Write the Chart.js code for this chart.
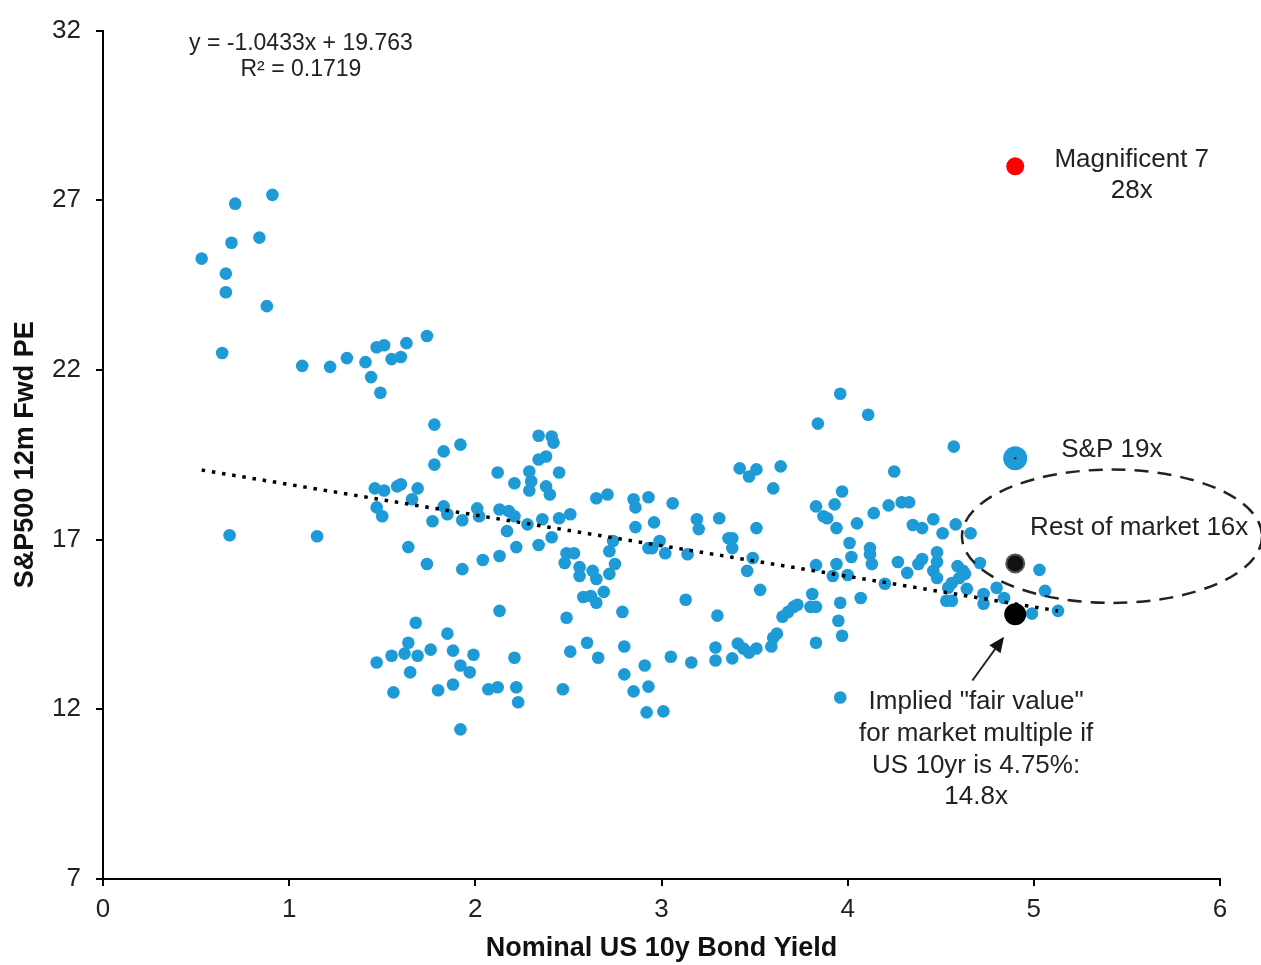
<!DOCTYPE html>
<html>
<head>
<meta charset="utf-8">
<script src="https://cdn.jsdelivr.net/npm/chart.js@4.4.1/dist/chart.umd.min.js"></script>
<style>
  body { margin: 0; background: #fff; }
  canvas { display: block; }
</style>
</head>
<body>
<canvas id="myChart" width="1261" height="965"></canvas>
<script>
// Stocks / periods: 10y yield (x) vs S&P500 12m fwd PE (y)
const bondYield = [
  0.53, 0.66, 0.66, 0.69, 0.71, 0.84, 0.88, 0.91, 0.64, 0.68,
  1.07, 1.22, 1.31, 1.41, 1.44, 1.49, 1.47, 1.51, 1.55, 1.60, 1.63, 1.74, 1.15,
  1.78, 1.83, 1.92, 1.78, 1.46, 1.51, 1.58, 1.60, 1.69, 1.66, 1.47, 1.50,
  1.83, 1.85, 1.77, 1.93, 2.01, 2.02, 1.64, 1.74, 1.93, 2.04, 2.13,
  2.12, 2.21, 2.13, 2.18, 2.21, 2.17, 2.28, 2.36, 2.22, 2.34, 2.41,
  2.34, 2.41, 2.42, 2.34, 2.38, 2.29, 2.30, 2.29, 2.38, 2.40, 2.45, 2.45, 2.51,
  2.49, 2.53, 2.48, 2.56, 2.56, 2.63, 2.65, 2.69, 2.58, 2.62, 2.65,
  2.65, 2.71, 2.85, 2.86, 2.93, 2.86, 2.93, 2.74, 2.72, 2.75, 2.72, 2.49, 2.79, 2.13,
  1.68, 1.85, 1.64, 1.62, 1.55, 1.47, 1.69, 1.76, 1.88, 1.99, 1.92, 1.97, 1.65,
  1.56, 1.80, 1.88, 2.07, 2.12, 2.22, 2.23, 2.21, 1.92,
  2.51, 2.60, 2.66, 2.47, 2.80, 2.80, 2.85, 2.91, 2.93, 2.92, 3.01, 3.05,
  3.84, 3.42, 3.47, 3.51, 3.64, 3.60, 3.06, 3.19, 3.20, 3.31, 3.51,
  2.96, 2.99, 2.95, 3.02, 3.14, 3.16, 3.29, 3.29, 3.30, 3.13,
  3.38, 3.41, 3.44, 3.47, 3.51, 3.59, 3.60, 3.62, 3.65, 3.68, 3.71, 3.73, 3.80, 3.83, 3.81, 3.83, 3.53,
  3.38, 3.36, 3.38, 3.49, 3.46, 3.83, 3.93, 3.97, 3.87, 3.89, 3.94,
  3.83, 3.94, 3.92, 4.00, 3.96, 3.95, 3.97, 3.96, 4.01,
  3.96, 4.11, 4.57, 4.25, 4.05, 4.14, 4.22, 4.29, 4.33, 4.35, 4.40, 4.46, 4.51, 4.58, 4.66,
  4.12, 4.12, 4.02, 4.13, 4.27, 4.38, 4.40, 4.48, 4.48, 4.46, 4.32, 4.48,
  4.59, 4.62, 4.63, 4.60, 4.56, 4.54, 4.53, 4.56, 4.64, 4.73, 4.73, 4.80, 4.71, 4.84,
  4.20, 4.07, 4.99, 5.03, 5.06, 5.13
];
const forwardPE = [
  25.28, 24.84, 24.29, 25.75, 26.9, 25.9, 23.88, 27.16, 22.5, 17.13,
  22.12, 22.09, 22.35, 22.23, 21.79, 21.33, 22.67, 22.73, 22.32, 22.38, 22.79, 23.0, 17.1,
  20.39, 19.6, 19.8, 19.21, 18.51, 18.45, 18.57, 18.63, 18.51, 18.19, 17.95, 17.69,
  17.98, 17.75, 17.54, 17.57, 17.92, 17.69, 16.78, 16.28, 16.13, 16.4, 16.52,
  18.98, 18.66, 17.89, 17.84, 17.69, 17.25, 17.45, 17.6, 16.78, 16.84, 17.07,
  20.06, 20.04, 19.86, 19.36, 19.45, 19.01, 18.72, 18.45, 18.57, 18.33, 18.98, 17.63, 17.75,
  16.6, 16.6, 16.31, 16.19, 15.93, 16.08, 15.84, 15.46, 15.31, 15.34, 15.14,
  18.22, 18.33, 18.19, 17.95, 18.25, 17.37, 16.75, 16.96, 16.66, 16.28, 15.99, 14.7, 14.87, 14.9,
  14.55, 14.23, 13.96, 13.64, 13.58, 13.38, 13.58, 13.76, 13.73, 13.61, 13.29, 13.09, 13.09,
  12.5, 12.56, 12.73, 12.59, 12.65, 12.65, 12.21, 13.52, 11.41,
  13.70, 13.96, 13.52, 12.59, 13.85, 13.03, 12.53, 13.29, 12.67, 11.91, 11.94, 13.55,
  20.42, 19.1, 18.86, 19.07, 19.16, 18.51, 18.07, 17.6, 17.31, 17.63, 17.34,
  17.51, 16.96, 16.75, 16.6, 16.57, 13.38, 13.82, 13.44, 14.76, 15.23,
  13.5, 13.94, 13.79, 13.67, 13.79, 13.85, 14.11, 14.23, 14.73, 14.87, 15.02, 15.08, 15.02, 15.02, 15.40, 13.96, 15.52,
  17.04, 17.04, 16.75, 16.46, 16.08, 17.98, 18.04, 18.42, 17.69, 17.63, 17.34,
  16.25, 16.28, 15.93, 15.96, 15.14, 14.61, 14.17, 12.35, 16.9,
  21.3, 20.68, 19.74, 19.01, 17.48, 17.78, 18.01, 18.1, 18.1, 17.43, 17.34, 17.6, 17.19, 17.45, 17.19,
  16.75, 16.57, 16.49, 16.28, 16.34, 16.28, 16.43, 16.63, 16.34, 16.08, 16.02, 15.87,
  16.22, 16.08, 15.99, 15.87, 15.72, 15.58, 15.2, 15.2, 15.55, 15.40, 15.11, 15.58, 16.31, 15.28,
  15.7, 15.28, 14.82, 16.11, 15.49, 14.9
];

// highlighted points
const mag7Point = [{ x: 4.90, y: 28.0 }];
const spPoint = [{ x: 4.90, y: 19.4 }];
const restPoint = [{ x: 4.90, y: 16.3 }];
const fairValuePoint = [{ x: 4.90, y: 14.8 }];

// dotted trend line as drawn on the picture
const trendLine = [{ x: 0.53, y: 19.05 }, { x: 5.13, y: 14.9 }];

const xTicks = [0, 1, 2, 3, 4, 5, 6];
const yTicks = [7, 12, 17, 22, 27, 32];

const blue = '#1E9BD7';
const ink = '#222';
const font = '"Liberation Sans", Arial, sans-serif';

const scatterData = bondYield.map((x, i) => ({ x: x, y: forwardPE[i] }));

// text, ellipse and arrow on top of the chart
const notes = {
  id: 'notes',
  afterDatasetsDraw(chart) {
    const { ctx, scales: { x, y } } = chart;
    const px = (v) => x.getPixelForValue(v);
    const py = (v) => y.getPixelForValue(v);
    ctx.save();

    // dashed ellipse round "rest of market"
    ctx.beginPath();
    ctx.setLineDash([14, 9]);
    ctx.lineWidth = 2.5;
    ctx.strokeStyle = ink;
    ctx.ellipse(px(5.42), py(17.1), px(0.806) - px(0), py(0) - py(1.965), 0, 0, Math.PI * 2);
    ctx.stroke();
    ctx.setLineDash([]);

    // arrow to the fair value point
    const x0 = px(4.67), y0 = py(12.85);
    const x1 = px(4.84), y1 = py(14.14);
    const ang = Math.atan2(y1 - y0, x1 - x0);
    const head = 17;
    ctx.beginPath();
    ctx.lineWidth = 2;
    ctx.moveTo(x0, y0);
    ctx.lineTo(x1 - Math.cos(ang) * head * 0.8, y1 - Math.sin(ang) * head * 0.8);
    ctx.stroke();
    ctx.beginPath();
    ctx.fillStyle = '#111';
    ctx.moveTo(x1, y1);
    ctx.lineTo(x1 - head * Math.cos(ang - 0.42), y1 - head * Math.sin(ang - 0.42));
    ctx.lineTo(x1 - head * Math.cos(ang + 0.42), y1 - head * Math.sin(ang + 0.42));
    ctx.closePath();
    ctx.fill();

    ctx.fillStyle = ink;
    ctx.textBaseline = 'middle';
    ctx.textAlign = 'center';

    ctx.font = '23px ' + font;
    ctx.fillText('y = -1.0433x + 19.763', px(1.063), py(31.62));
    ctx.fillText('R\u00B2 = 0.1719', px(1.063), py(30.86));

    ctx.font = '26px ' + font;
    ctx.fillText('Magnificent 7', px(5.526), py(28.19));
    ctx.fillText('28x', px(5.526), py(27.28));
    ctx.fillText('S&P 19x', px(5.419), py(19.65));
    ctx.fillText('Implied "fair value"', px(4.69), py(12.21));
    ctx.fillText('for market multiple if', px(4.69), py(11.27));
    ctx.fillText('US 10yr is 4.75%:', px(4.69), py(10.33));
    ctx.fillText('14.8x', px(4.69), py(9.42));

    ctx.textAlign = 'left';
    ctx.fillText('Rest of market 16x', px(4.98), py(17.34));

    ctx.restore();
  },
};

const axisStyle = {
  border: { display: true, color: '#000', width: 2 },
  grid: { display: true, drawOnChartArea: false, drawTicks: true, tickLength: 7, color: '#000', lineWidth: 2 },
};

const chart = new Chart(document.getElementById('myChart'), {
  type: 'scatter',
  data: {
    datasets: [
      { label: 'S&P centre', data: spPoint, pointRadius: 1.3, backgroundColor: '#333', borderWidth: 0, order: 0 },
      { label: 'Magnificent 7', data: mag7Point, pointRadius: 9, backgroundColor: '#FF0000', borderWidth: 0, order: 1 },
      { label: 'S&P', data: spPoint, pointRadius: 12, backgroundColor: blue, borderWidth: 0, order: 1 },
      { label: 'Rest of market', data: restPoint, pointRadius: 9, backgroundColor: '#111', borderColor: '#555', borderWidth: 2, order: 1 },
      { label: 'Fair value', data: fairValuePoint, pointRadius: 11, backgroundColor: '#000', borderWidth: 0, order: 1 },
      {
        type: 'line',
        label: 'Trend',
        data: trendLine,
        borderColor: '#000',
        borderWidth: 3.5,
        borderDash: [3.5, 6.8],
        borderCapStyle: 'butt',
        pointRadius: 0,
        fill: false,
        order: 2,
      },
      { label: 'History', data: scatterData, pointRadius: 6.3, backgroundColor: blue, borderWidth: 0, order: 3 },
    ],
  },
  options: {
    responsive: false,
    animation: false,
    layout: { padding: { top: 27, right: 41, left: 0, bottom: 0 } },
    plugins: {
      legend: { display: false },
      tooltip: { enabled: false },
    },
    scales: {
      x: {
        type: 'linear',
        min: 0,
        max: 6,
        afterFit: (scale) => { scale.height = 86; },
        afterBuildTicks: (scale) => { scale.ticks = xTicks.map((v) => ({ value: v })); },
        ticks: { color: ink, font: { family: font, size: 26 }, padding: 8 },
        title: {
          display: true,
          text: 'Nominal US 10y Bond Yield',
          color: '#111',
          font: { family: font, size: 27, weight: 'bold' },
          padding: { top: 0, bottom: 0 },
        },
        ...axisStyle,
      },
      y: {
        type: 'linear',
        min: 7,
        max: 32,
        afterFit: (scale) => { scale.width = 103; },
        afterBuildTicks: (scale) => { scale.ticks = yTicks.map((v) => ({ value: v })); },
        ticks: { color: ink, font: { family: font, size: 26 }, padding: 15 },
        title: {
          display: true,
          text: 'S&P500 12m Fwd PE',
          color: '#111',
          font: { family: font, size: 27, weight: 'bold' },
          padding: { top: 9, bottom: 0 },
        },
        ...axisStyle,
      },
    },
  },
  plugins: [notes],
});
</script>
</body>
</html>
